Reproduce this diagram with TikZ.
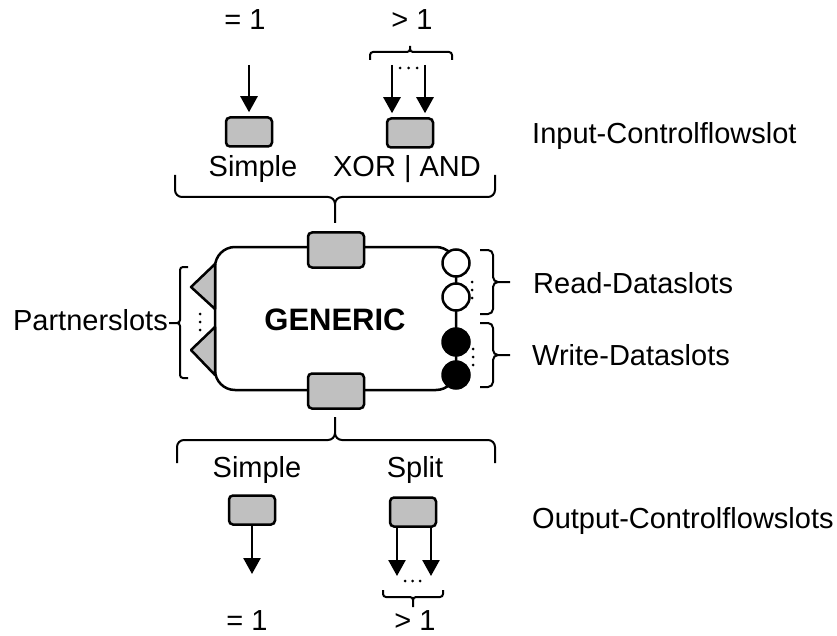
\documentclass[tikz,border=0pt]{standalone}
\usepackage{fontspec}
\setmainfont{Liberation Sans}
\usetikzlibrary{arrows.meta}

\definecolor{slotgray}{RGB}{192,192,192}

\begin{document}
\begin{tikzpicture}[x=1pt,y=-1pt,
    txt/.style={font=\fontsize{29}{34}\selectfont, inner sep=0pt},
    cslot/.style={draw, line width=2.5pt, fill=slotgray, rounded corners=4pt,
      minimum width=46pt, minimum height=29pt, inner sep=0pt},
    bigslot/.style={cslot, minimum width=56pt, minimum height=35pt},
    dslot/.style={circle, draw, line width=2.5pt, minimum size=27pt, inner sep=0pt},
    pslot/.style={draw, line width=2.5pt, fill=slotgray, line join=round},
    flow/.style={line width=2.5pt, -{Triangle[length=16pt,width=17pt]}},
    curly/.style={line width=2pt, rounded corners=7pt},
    smallcurly/.style={line width=2pt, rounded corners=3pt}]
  \useasboundingbox (0,0) rectangle (837,636);

  % component body
  \draw[line width=2.5pt, rounded corners=20pt] (215,247) rectangle (456,390);
  \node[txt, font=\fontsize{31}{36}\selectfont\bfseries, anchor=base] (generic) at (335,330) {GENERIC};
  \node[bigslot] (cin) at (336,250) {};
  \node[bigslot] (cout) at (336,391) {};
  \node[dslot, fill=white] (r1) at (456,263) {};
  \node[dslot, fill=white] (r2) at (456,297) {};
  \node[dslot, fill=black] (w1) at (456,342) {};
  \node[dslot, fill=black] (w2) at (456,375) {};
  \draw[pslot] (215,264) -- (191,287) -- (215,309) -- cycle;
  \draw[pslot] (215,327) -- (191,350) -- (215,375) -- cycle;
  \foreach \d in {-8,0,8} {
    \fill (472,290+\d) circle (1.5pt);
    \fill (473,357+\d) circle (1.5pt);
    \fill (200,322+\d) circle (1.5pt);
  }

  % input controlflow slots
  \node[txt, anchor=base] (eqin) at (245,30) {= 1};
  \node[txt, anchor=base] (gtin) at (412,30) {> 1};
  \node[cslot] (simplein) at (249,132) {};
  \node[cslot] (xorin) at (410,133) {};
  \node[txt, anchor=base] (simpleinlbl) at (253,177) {Simple};
  \node[txt, anchor=base] (xorinlbl) at (407,177) {XOR | AND};
  \coordinate (a0) at (249,65);
  \coordinate (a1) at (392,65);
  \coordinate (a2) at (425,65);
  \draw[flow, shorten >=4pt] (a0) -- (simplein.north);
  \draw[flow, shorten >=4pt] (a1) -- (a1 |- xorin.north);
  \draw[flow, shorten >=4pt] (a2) -- (a2 |- xorin.north);
  \foreach \d in {-8.5,0,8.5} \fill (408.5+\d,68) circle (1.5pt);
  \draw[smallcurly] (370,60) |- (410,52) -- (410,46)
    (452,60) |- (410,52) -- (410,46);
  \draw[curly] (175,175) |- (335,197) -- (335,223)
    (495,175) |- (335,197) -- (335,223);
  \node[txt, anchor=base west] (inlbl) at (532,144) {Input-Controlflowslot};

  % output controlflow slots
  \draw[curly] (177,463) |- (335,440) -- (335,417)
    (495,463) |- (335,440) -- (335,417);
  \node[txt, anchor=base] (simpleoutlbl) at (257,477) {Simple};
  \node[txt, anchor=base] (splitlbl) at (415,477) {Split};
  \node[cslot] (simpleout) at (252,510) {};
  \node[cslot] (split) at (413,512) {};
  \coordinate (b0) at (252,574);
  \coordinate (b1) at (397,576);
  \coordinate (b2) at (431,576);
  \draw[flow] (simpleout.south) -- (b0);
  \draw[flow] (b1 |- split.south) -- (b1);
  \draw[flow] (b2 |- split.south) -- (b2);
  \foreach \d in {-7.5,0,7.5} \fill (412.5+\d,581) circle (1.5pt);
  \draw[smallcurly] (383,590) |- (413,597) -- (413,607)
    (443,590) |- (413,597) -- (413,607);
  \node[txt, anchor=base] (eqout) at (247,630) {= 1};
  \node[txt, anchor=base] (gtout) at (415,630) {> 1};
  \node[txt, anchor=base west] (outlbl) at (532,528) {Output-Controlflowslots};

  % data slots
  \draw[curly, rounded corners=5pt] (480,250) -| (493,282) -- (510,282)
    (480,314) -| (493,282) -- (510,282);
  \draw[curly, rounded corners=5pt] (480,323) -| (493,355) -- (510,355)
    (480,387) -| (493,355) -- (510,355);
  \node[txt, anchor=base west] (readlbl) at (533,293) {Read-Dataslots};
  \node[txt, anchor=base west] (writelbl) at (532,365) {Write-Dataslots};

  % partner slots
  \draw[smallcurly] (188,267) -| (180,323) -- (169,323)
    (188,378) -| (180,323) -- (169,323);
  \node[txt, anchor=base east] (partnerlbl) at (168,330) {Partnerslots};
\end{tikzpicture}
\end{document}
